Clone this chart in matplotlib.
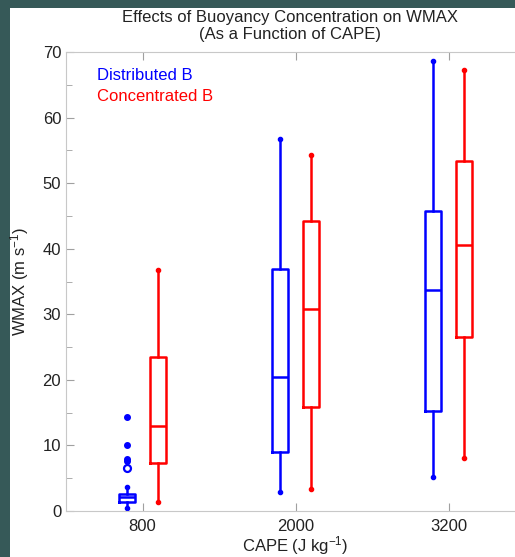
"""Box plot of WMAX for distributed vs concentrated buoyancy at three CAPE values."""
import matplotlib
matplotlib.use("Agg")
import matplotlib.pyplot as plt
from matplotlib.patches import Rectangle
from matplotlib.ticker import MultipleLocator

plt.rcParams["font.family"] = ["Liberation Sans", "DejaVu Sans"]
plt.rcParams["mathtext.default"] = "regular"

# CAPE categories
cape = [800, 2000, 3200]

# Box statistics: (whislo, q1, med, q3, whishi)
dist_stats = [
    (0.4, 1.3, 2.1, 2.6, 3.7),
    (2.9, 9.0, 20.4, 36.9, 56.7),
    (5.2, 15.3, 33.7, 45.8, 68.6),
]
conc_stats = [
    (1.4, 7.3, 13.0, 23.5, 36.8),
    (3.4, 15.9, 30.8, 44.2, 54.3),
    (8.1, 26.5, 40.6, 53.4, 67.3),
]
# outliers of the distributed run at CAPE 800
dist_fliers = [14.3, 10.1, 8.0, 7.7]
dist_fliers_open = [6.5]

offset = 120
box_w = 125
teal = "#365958"


def to_bxp(stats, fliers=None):
    out = []
    for i, (lo, q1, med, q3, hi) in enumerate(stats):
        out.append({
            "whislo": lo, "q1": q1, "med": med, "q3": q3, "whishi": hi,
            "fliers": (fliers if (fliers is not None and i == 0) else []),
        })
    return out


fig = plt.figure(figsize=(5.15, 5.57), dpi=100, facecolor=teal)
fig.patches.append(Rectangle((10 / 515, 0), 1, 1 - 8 / 557, transform=fig.transFigure,
                             facecolor="white", edgecolor="none", zorder=-10))

ax = fig.add_axes([66 / 515, 46 / 557, 459 / 515, 459 / 557])
ax.set_zorder(5)
ax.set_facecolor("white")

for stats, color, shift, fl in [(dist_stats, "blue", -offset, dist_fliers),
                                (conc_stats, "red", offset, None)]:
    pos = [c + shift for c in cape]
    line = dict(color=color, linewidth=1.8)
    ax.bxp(to_bxp(stats, fl), positions=pos, widths=box_w, showcaps=False,
           boxprops=line, whiskerprops=line, medianprops=line,
           flierprops=dict(marker="o", markersize=4, markerfacecolor=color,
                           markeredgecolor=color, linestyle="none"),
           manage_ticks=False)
    # small dots at whisker ends
    ax.plot(pos, [s[0] for s in stats], "o", color=color, markersize=3, linestyle="none")
    ax.plot(pos, [s[4] for s in stats], "o", color=color, markersize=3, linestyle="none")

ax.plot([cape[0] - offset] * len(dist_fliers_open), dist_fliers_open, "o",
        markersize=5, markerfacecolor="white", markeredgecolor="blue", markeredgewidth=1.6)

ax.set_xlim(200, 3800)
ax.set_ylim(0, 70)
ax.set_xticks(cape)
ax.yaxis.set_major_locator(MultipleLocator(10))
ax.yaxis.set_minor_locator(MultipleLocator(5))
ax.tick_params(axis="both", which="both", direction="in", color="#a0a0a0",
               labelsize=12, labelcolor="#222222", top=True, right=True)
ax.tick_params(axis="both", which="major", length=6)
ax.tick_params(axis="both", which="minor", length=4)
ax.tick_params(axis="x", pad=6)
for sp in ax.spines.values():
    sp.set_color("#c8c8c8")

ax.set_xlabel("CAPE (J kg$^{-1}$)", fontsize=12, color="#222222", labelpad=0)
ax.set_ylabel("WMAX (m s$^{-1}$)", fontsize=12, color="#222222", labelpad=8)
fig.text(0.563, 0.982, "Effects of Buoyancy Concentration on WMAX\n(As a Function of CAPE)",
         ha="center", va="top", fontsize=12, color="#222222", linespacing=1.15)

ax.text(0.067, 0.948, "Distributed B", color="blue", fontsize=12, transform=ax.transAxes, va="center")
ax.text(0.067, 0.902, "Concentrated B", color="red", fontsize=12, transform=ax.transAxes, va="center")

fig.savefig("out.png", dpi=100, facecolor=teal)
